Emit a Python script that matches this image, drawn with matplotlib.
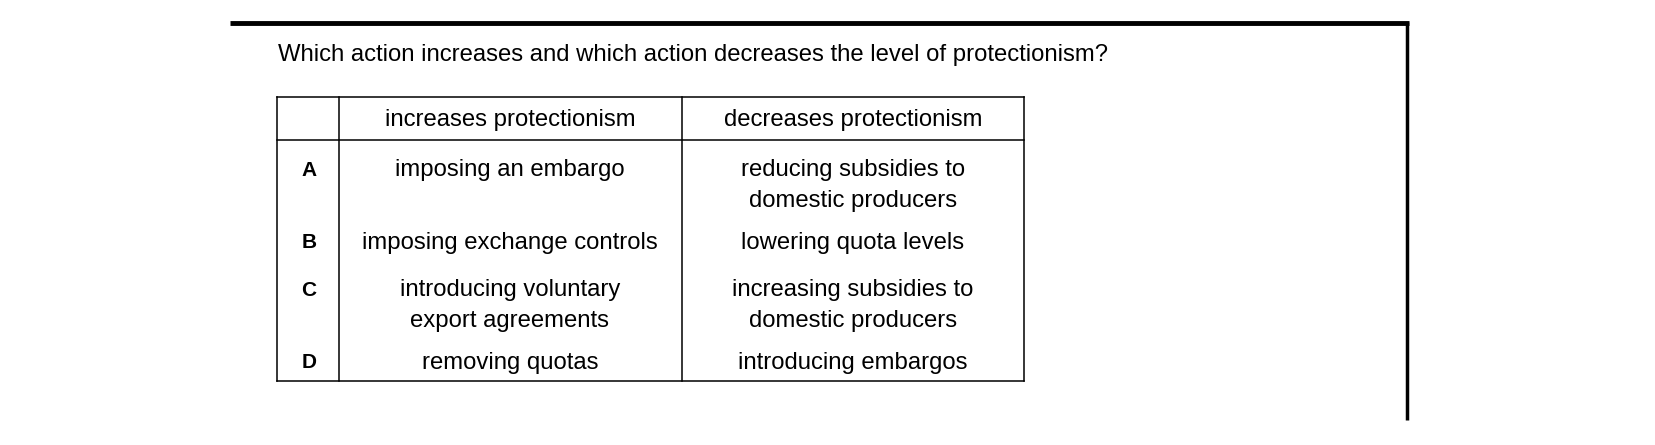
import matplotlib.pyplot as plt

question = "Which action increases and which action decreases the level of protectionism?"
headers = ["increases protectionism", "decreases protectionism"]
letters = ["A", "B", "C", "D"]
increases = [["imposing an embargo"],
             ["imposing exchange controls"],
             ["introducing voluntary", "export agreements"],
             ["removing quotas"]]
decreases = [["reducing subsidies to", "domestic producers"],
             ["lowering quota levels"],
             ["increasing subsidies to", "domestic producers"],
             ["introducing embargos"]]
row_y = [170, 243, 290, 363]

plt.rcParams['font.family'] = ['Liberation Sans', 'DejaVu Sans']

fig = plt.figure(figsize=(16.56, 4.45), dpi=100)
ax = fig.add_axes([0, 0, 1, 1])
ax.set_xlim(0, 1656)
ax.set_ylim(445, 0)
ax.axis('off')

# page frame
ax.plot([230, 1409], [23, 23], color='black', lw=3.5, solid_capstyle='butt')
ax.plot([1407, 1407], [22, 420], color='black', lw=2.5, solid_capstyle='butt')

fs = 17.2
ax.text(278, 55, question, fontsize=fs, va='center', ha='left')

# table grid
lw = 1.1
for x in [277, 339, 682, 1024]:
    ax.plot([x, x], [97, 381], color='black', lw=lw)
for y in [97, 140, 381]:
    ax.plot([277, 1024], [y, y], color='black', lw=lw)

ax.text(510, 120, headers[0], fontsize=fs, ha='center', va='center')
ax.text(853, 120, headers[1], fontsize=fs, ha='center', va='center')

line_gap = 31
for y, letter, inc, dec in zip(row_y, letters, increases, decreases):
    ax.text(309, y, letter, fontsize=15, ha='center', va='center', fontweight='bold')
    for i, t in enumerate(inc):
        ax.text(510, y + i * line_gap, t, fontsize=fs, ha='center', va='center')
    for i, t in enumerate(dec):
        ax.text(853, y + i * line_gap, t, fontsize=fs, ha='center', va='center')

fig.savefig('out.png', dpi=100, facecolor='white')
